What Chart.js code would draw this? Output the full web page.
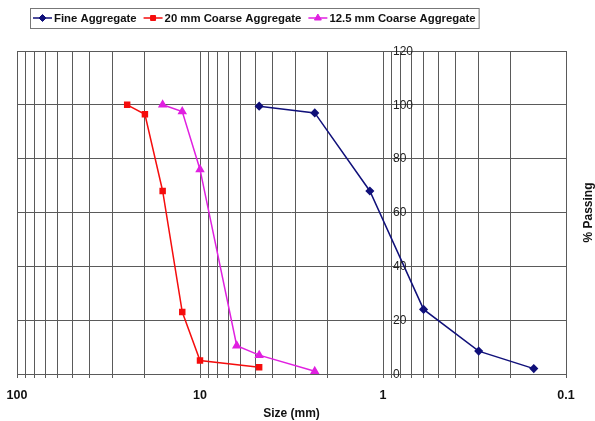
<!DOCTYPE html>
<html>
<head>
<meta charset="utf-8">
<title>Sieve analysis</title>
<script src="https://cdn.jsdelivr.net/npm/chart.js@4.4.0/dist/chart.umd.min.js"></script>
<style>
  html, body { margin: 0; padding: 0; background: #fff; }
  #grading { display: block; }
</style>
</head>
<body>
<canvas id="grading" width="595" height="421"></canvas>
<script>
// Data (sieve size in mm, % passing)

var fineSizes = [4.75, 2.36, 1.18, 0.6, 0.3, 0.15];
var finePassing = [99.5, 97, 68, 24, 8.5, 2];

var coarse20Sizes = [25, 20, 16, 12.5, 10, 4.75];
var coarse20Passing = [100, 96.5, 68, 23, 5, 2.5];

var coarse125Sizes = [16, 12.5, 10, 6.3, 4.75, 2.36];
var coarse125Passing = [100, 97.5, 76, 10.5, 7, 1];

var seriesNames = ["Fine Aggregate", "20 mm Coarse Aggregate", "12.5 mm Coarse Aggregate"];

var xTickLabels = [100, 10, 1, 0.1];
var yTickLabels = [0, 20, 40, 60, 80, 100, 120];

// grid lines at 1..9 of every decade
var decades = [0.1, 1, 10];
var xGridValues = [];
decades.forEach(function (d) {
  for (var i = 1; i <= 9; i++) xGridValues.push(+(d * i).toPrecision(3));
});
xGridValues.push(100);

function toPoints(xs, ys) {
  return xs.map(function (x, i) { return { x: x, y: ys[i] }; });
}

var FONT = '"Liberation Sans", Arial, sans-serif';
var GRID = '#5a5a5a';

// Legend box, y labels next to the "1" line, axis titles

var extras = {
  id: 'extras',
  afterDraw: function (chart) {
    var ctx = chart.ctx;
    var xs = chart.scales.x, ys = chart.scales.y;
    var area = chart.chartArea;

    // y tick labels
    ctx.save();
    ctx.font = '12px ' + FONT;
    ctx.fillStyle = '#222';
    ctx.textAlign = 'left';
    ctx.textBaseline = 'middle';
    var lx = xs.getPixelForValue(1) + 10;
    yTickLabels.forEach(function (v) {
      ctx.fillText(String(v), lx, ys.getPixelForValue(v) + 0.5);
    });
    ctx.restore();

    // axis titles
    ctx.save();
    ctx.font = 'bold 12px ' + FONT;
    ctx.fillStyle = '#111';
    ctx.textAlign = 'center';
    ctx.textBaseline = 'middle';
    ctx.fillText('Size (mm)', (area.left + area.right) / 2, 414);
    ctx.translate(589, (area.top + area.bottom) / 2);
    ctx.rotate(-Math.PI / 2);
    ctx.fillText('% Passing', 0, 0);
    ctx.restore();

    // legend
    ctx.save();
    ctx.font = 'bold 11.35px ' + FONT;
    ctx.textBaseline = 'middle';
    ctx.textAlign = 'left';
    var boxLeft = 30, boxTop = 8, boxH = 20;
    var cy = boxTop + boxH / 2;
    var x = boxLeft + 3;
    chart.data.datasets.forEach(function (ds) {
      ctx.strokeStyle = ds.borderColor;
      ctx.lineWidth = 1.5;
      ctx.beginPath();
      ctx.moveTo(x, cy);
      ctx.lineTo(x + 19, cy);
      ctx.stroke();
      ctx.fillStyle = ds.pointBackgroundColor;
      ctx.strokeStyle = ds.pointBorderColor;
      ctx.lineWidth = 1;
      Chart.helpers.drawPoint(ctx, { pointStyle: ds.pointStyle, radius: ds.pointRadius, rotation: 0, borderWidth: 1 }, x + 9.5, cy);
      ctx.fillStyle = '#111';
      ctx.fillText(ds.label, x + 21, cy + 0.5);
      x += 21 + ctx.measureText(ds.label).width + 7;
    });
    ctx.strokeStyle = '#777';
    ctx.lineWidth = 1;
    ctx.strokeRect(boxLeft + 0.5, boxTop + 0.5, x - 4 - boxLeft, boxH);
    ctx.restore();
  }
};

new Chart(document.getElementById('grading'), {
  type: 'scatter',
  data: {
    datasets: [
      {
        label: seriesNames[0],
        data: toPoints(fineSizes, finePassing),
        showLine: true,
        borderColor: '#10107a',
        backgroundColor: '#10107a',
        pointBackgroundColor: '#10107a',
        pointBorderColor: '#10107a',
        pointStyle: 'rectRot',
        pointRadius: 3.5,
        borderWidth: 1.5
      },
      {
        label: seriesNames[1],
        data: toPoints(coarse20Sizes, coarse20Passing),
        showLine: true,
        borderColor: '#f50d0d',
        backgroundColor: '#f50d0d',
        pointBackgroundColor: '#f50d0d',
        pointBorderColor: '#f50d0d',
        pointStyle: 'rect',
        pointRadius: 3.5,
        borderWidth: 1.5
      },
      {
        label: seriesNames[2],
        data: toPoints(coarse125Sizes, coarse125Passing),
        showLine: true,
        borderColor: '#e020e0',
        backgroundColor: '#e020e0',
        pointBackgroundColor: '#e020e0',
        pointBorderColor: '#e020e0',
        pointStyle: 'triangle',
        pointRadius: 4,
        borderWidth: 1.5
      }
    ]
  },
  options: {
    responsive: false,
    animation: false,
    layout: {
      padding: { left: 17, right: 29, top: 51, bottom: 8 }
    },
    plugins: {
      legend: { display: false },
      tooltip: { enabled: false }
    },
    scales: {
      x: {
        type: 'logarithmic',
        reverse: true,
        min: 0.1,
        max: 100,
        afterBuildTicks: function (scale) {
          scale.ticks = xGridValues.map(function (v) { return { value: v }; });
        },
        ticks: {
          autoSkip: false,
          maxRotation: 0,
          padding: 10,
          color: '#111',
          font: { family: FONT, size: 12.5, weight: 'bold' },
          callback: function (v) {
            return xTickLabels.indexOf(+(+v).toPrecision(3)) >= 0 ? String(+(+v).toPrecision(3)) : '';
          }
        },
        grid: {
          color: GRID,
          lineWidth: 1,
          tickLength: 4,
          tickColor: GRID
        },
        border: { color: GRID }
      },
      y: {
        min: 0,
        max: 120,
        ticks: { stepSize: 20, display: false },
        grid: { color: GRID, lineWidth: 1, drawTicks: false },
        border: { display: false }
      }
    }
  },
  plugins: [extras]
});
</script>
</body>
</html>
